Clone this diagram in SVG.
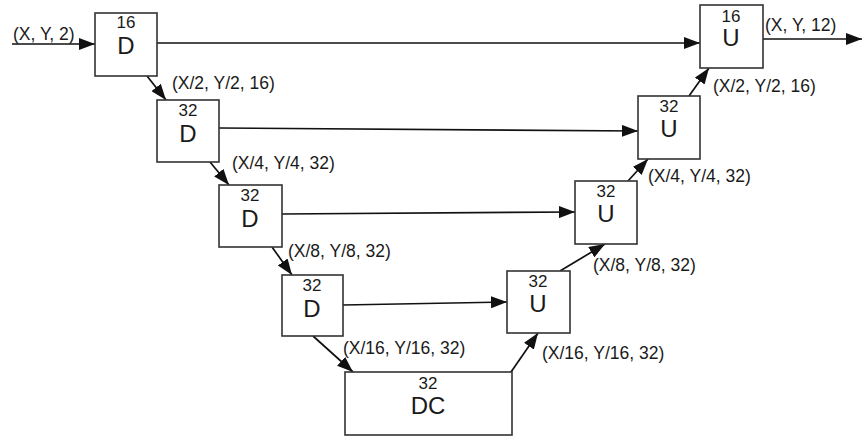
<svg xmlns="http://www.w3.org/2000/svg" width="862" height="437" viewBox="0 0 862 437">
<style>
.box{fill:#fff;stroke:#333;stroke-width:1.6}
.ch{font-family:"Liberation Sans",Arial,sans-serif;font-size:17px;fill:#1a1a1a;text-anchor:middle}
.nm{font-family:"Liberation Sans",Arial,sans-serif;font-size:24px;fill:#1a1a1a;text-anchor:middle}
.lb{font-family:"Liberation Sans",Arial,sans-serif;font-size:17.5px;fill:#1a1a1a}
.cn{fill:none;stroke:#111;stroke-width:1.7;marker-end:url(#ah)}
</style>
<defs>
<marker id="ah" markerUnits="userSpaceOnUse" markerWidth="16" markerHeight="12" refX="16" refY="6" orient="auto">
<path d="M0,0 L16,6 L0,12 z" fill="#111"/>
</marker>
</defs>
<g id="connectors">
<line class="cn" x1="12" y1="44" x2="95" y2="44"/>
<line class="cn" x1="157" y1="43" x2="700" y2="43"/>
<line class="cn" x1="219" y1="128" x2="638" y2="131"/>
<line class="cn" x1="282" y1="214" x2="575" y2="212"/>
<line class="cn" x1="343" y1="305" x2="507" y2="302"/>
<line class="cn" x1="763" y1="39" x2="862" y2="39"/>
<line class="cn" x1="147" y1="76" x2="166" y2="100"/>
<line class="cn" x1="210" y1="162" x2="229" y2="185"/>
<line class="cn" x1="272" y1="247" x2="292" y2="275"/>
<line class="cn" x1="313" y1="336" x2="353" y2="372"/>
<line class="cn" x1="511" y1="372" x2="538" y2="333"/>
<line class="cn" x1="560" y1="271" x2="605" y2="244"/>
<line class="cn" x1="628" y1="181" x2="648" y2="159"/>
<line class="cn" x1="689" y1="96" x2="709" y2="68"/>
</g>
<g id="D1"><rect class="box" x="95" y="13" width="62" height="63"/><text class="ch" x="126" y="28">16</text><text class="nm" x="126" y="54">D</text></g>
<g id="D2"><rect class="box" x="157" y="100" width="62" height="62"/><text class="ch" x="188" y="116">32</text><text class="nm" x="188" y="142">D</text></g>
<g id="D3"><rect class="box" x="219" y="185" width="63" height="62"/><text class="ch" x="250" y="201">32</text><text class="nm" x="250" y="227">D</text></g>
<g id="D4"><rect class="box" x="282" y="275" width="61" height="61"/><text class="ch" x="312" y="291">32</text><text class="nm" x="312" y="317">D</text></g>
<g id="DC"><rect class="box" x="345" y="372" width="167" height="63"/><text class="ch" x="428" y="389">32</text><text class="nm" x="428" y="414">DC</text></g>
<g id="U4"><rect class="box" x="507" y="271" width="63" height="62"/><text class="ch" x="538" y="287">32</text><text class="nm" x="538" y="312">U</text></g>
<g id="U3"><rect class="box" x="575" y="181" width="62" height="63"/><text class="ch" x="606" y="197">32</text><text class="nm" x="606" y="222">U</text></g>
<g id="U2"><rect class="box" x="638" y="96" width="62" height="63"/><text class="ch" x="669" y="112">32</text><text class="nm" x="669" y="137">U</text></g>
<g id="U1"><rect class="box" x="700" y="5" width="63" height="63"/><text class="ch" x="731" y="22">16</text><text class="nm" x="731" y="46">U</text></g>
<g id="labels">
<text class="lb" x="13" y="40">(X, Y, 2)</text>
<text class="lb" x="172" y="89">(X/2, Y/2, 16)</text>
<text class="lb" x="232" y="169">(X/4, Y/4, 32)</text>
<text class="lb" x="288" y="257">(X/8, Y/8, 32)</text>
<text class="lb" x="343" y="354">(X/16, Y/16, 32)</text>
<text class="lb" x="542" y="359">(X/16, Y/16, 32)</text>
<text class="lb" x="593" y="271">(X/8, Y/8, 32)</text>
<text class="lb" x="648" y="182">(X/4, Y/4, 32)</text>
<text class="lb" x="713" y="92">(X/2, Y/2, 16)</text>
<text class="lb" x="765" y="31">(X, Y, 12)</text>
</g>
</svg>
